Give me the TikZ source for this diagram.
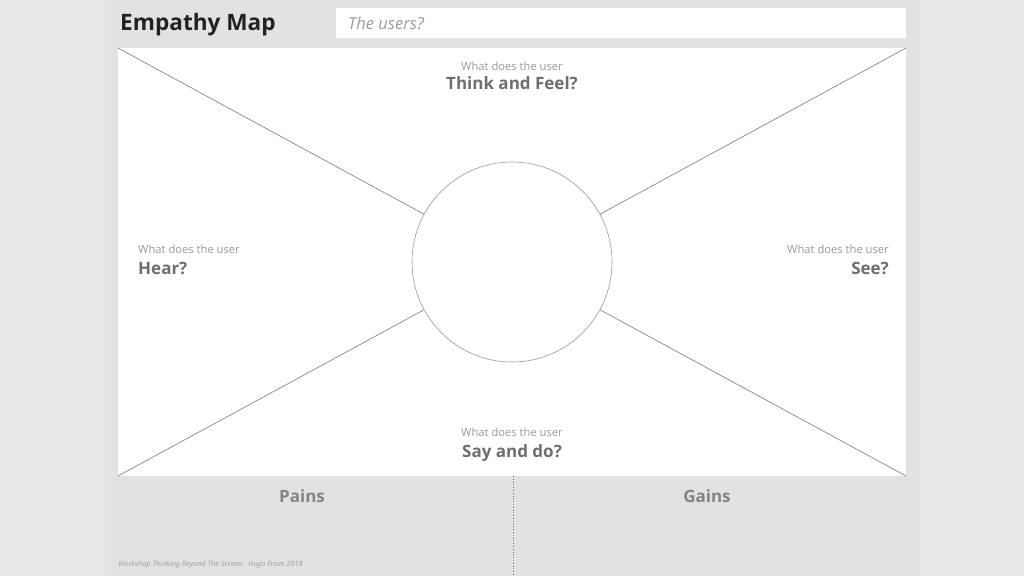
\documentclass[tikz,border=0pt]{standalone}
\usepackage{fontspec}
\setmainfont{Open Sans}
\usetikzlibrary{positioning}
\definecolor{outer}{HTML}{E8E8E8}
\definecolor{panel}{HTML}{E2E2E2}
\definecolor{ink}{HTML}{222222}
\definecolor{spokegray}{HTML}{7A7A7A}
\definecolor{askgray}{HTML}{9A9A9A}
\definecolor{topicgray}{HTML}{6E6E6E}

\begin{document}
\begin{tikzpicture}[x=1pt,y=-1pt,every node/.style={inner sep=0pt},
    ask/.style={font=\fontsize{11.2}{13}\selectfont, text=askgray, anchor=base},
    topic/.style={font=\fontsize{17}{20}\selectfont\bfseries, text=topicgray, anchor=base},
    spoke/.style={draw=spokegray, line width=0.6pt}]
  \useasboundingbox (0,0) rectangle (1024,576);
  \fill[outer] (0,0) rectangle (1024,576);
  \fill[panel] (105,0) rectangle (920,576);

  % header
  \node[anchor=base west, font=\fontsize{22.6}{26}\selectfont\bfseries, text=ink] (title) at (120,30) {Empathy Map};
  \fill[white] (336,8) rectangle (906,38);
  \node[anchor=base west, font=\fontsize{16.5}{20}\selectfont\itshape, text=askgray] (who) at (348,29) {The users?};

  % map
  \fill[white] (118,48) rectangle (906,476);
  \coordinate (nw) at (118,48);
  \coordinate (ne) at (906,48);
  \coordinate (sw) at (118,476);
  \coordinate (se) at (906,476);
  \node[circle, draw=askgray, line width=0.6pt, fill=white, minimum size=200pt] (hub) at (512,262) {};
  \foreach \c in {nw, ne, sw, se} {
    \draw[spoke] (\c) -- (hub);
  }

  % questions
  \node[ask] (thinkq) at (512,70) {What does the user};
  \node[topic] (think) at (512,89) {Think and Feel?};
  \node[ask, anchor=base west] (hearq) at (138,253) {What does the user};
  \node[topic, anchor=base west] (hear) at (138,274) {Hear?};
  \node[ask, anchor=base east] (seeq) at (889,253) {What does the user};
  \node[topic, anchor=base east] (see) at (889,274) {See?};
  \node[ask] (sayq) at (512,436) {What does the user};
  \node[topic] (say) at (512,457) {Say and do?};

  % pains / gains
  \coordinate (splittop) at (513,476);
  \coordinate (splitbot) at (513,576);
  \draw[dotted, draw=topicgray, line width=0.8pt] (splittop) -- (splitbot);
  \node[topic, text=topicgray!85] (pains) at (302,502) {Pains};
  \node[topic, text=topicgray!85] (gains) at (707,502) {Gains};
  \node[anchor=base west, font=\fontsize{7.3}{8}\selectfont\itshape, text=askgray] (credit) at (118,566) {Workshop Thinking Beyond The Screen - Hugo Froes 2018};
\end{tikzpicture}
\end{document}
